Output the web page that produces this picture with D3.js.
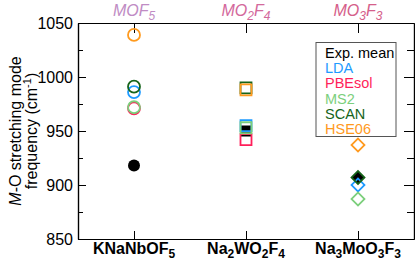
<!DOCTYPE html>
<html>
<head>
<meta charset="utf-8">
<script src="https://cdn.jsdelivr.net/npm/d3@7"></script>
<style>
  body { margin: 0; background: #fff; }
  text { font-family: "Liberation Sans", Arial, sans-serif; }
</style>
</head>
<body>
<div id="chart"></div>
<script>
// compounds on the x axis
const categories = ["KNaNbOF5", "Na2WO2F4", "Na3MoO3F3"];
const catLabels = [["KNaNbOF", "5"], ["Na", "2", "WO", "2", "F", "4"], ["Na", "3", "MoO", "3", "F", "3"]];
const topLabels = [["MOF", "5"], ["MO", "2", "F", "4"], ["MO", "3", "F", "3"]];
const topColors = ["#c08cc4", "#d3699c", "#d5608a"];
const shapes = ["circle", "square", "diamond"];

// series (cm-1), one value per compound
const methods = ["Exp. mean", "LDA", "PBEsol", "MS2", "SCAN", "HSE06"];
const colors = ["#000000", "#1e9bff", "#ff1f5a", "#7ccf7c", "#16641a", "#ff9a1e"];
const expMean = [918, 950, 907];
const lda = [986, 955, 900];
const pbesol = [971, 942, null];
const ms2 = [972, 953, 887];
const scan = [991, 990, 907];
const hse06 = [1039, 988, 937];
const series = [expMean, lda, pbesol, ms2, scan, hse06];

const yTicks = [850, 900, 950, 1000, 1050];
const yMinor = [875, 925, 975, 1025];

const width = 415, height = 263;
const margin = { left: 78, right: 1, top: 23, bottom: 24 };

const svg = d3.select("#chart").append("svg")
  .attr("width", width).attr("height", height);

const x = d3.scalePoint().domain(categories)
  .range([margin.left, width - margin.right]).padding(0.5);
const y = d3.scaleLinear().domain([850, 1050])
  .range([height - margin.bottom, margin.top]);

const x0 = margin.left, x1 = width - margin.right;
const y0 = height - margin.bottom, y1 = margin.top;

// axes, ticks pointing inward
function styleAxis(g) {
  g.select(".domain").attr("stroke", "#000").attr("stroke-width", 1.2);
  g.selectAll(".tick line").attr("stroke", "#000").attr("stroke-width", 1);
}

svg.append("g").attr("transform", `translate(${x0},0)`)
  .call(d3.axisLeft(y).tickValues(yTicks).tickSize(-8).tickPadding(5)
    .tickFormat(d3.format("d")).tickSizeOuter(0))
  .call(styleAxis)
  .call(g => g.selectAll("text").attr("font-size", 16).attr("fill", "#000")
    .attr("font-family", "Liberation Sans, Arial, sans-serif"));
svg.append("g").attr("transform", `translate(${x0},0)`)
  .call(d3.axisLeft(y).tickValues(yMinor).tickSize(-5).tickFormat("").tickSizeOuter(0))
  .call(styleAxis);
svg.append("g").attr("transform", `translate(${x1},0)`)
  .call(d3.axisRight(y).tickValues(yTicks).tickSize(-10).tickFormat("").tickSizeOuter(0))
  .call(styleAxis);
svg.append("g").attr("transform", `translate(${x1},0)`)
  .call(d3.axisRight(y).tickValues(yMinor).tickSize(-7).tickFormat("").tickSizeOuter(0))
  .call(styleAxis);
svg.append("g").attr("transform", `translate(0,${y0})`)
  .call(d3.axisBottom(x).tickSize(-8).tickFormat("").tickSizeOuter(0))
  .call(styleAxis);
svg.append("g").attr("transform", `translate(0,${y1})`)
  .call(d3.axisTop(x).tickSize(-10).tickFormat("").tickSizeOuter(0))
  .call(styleAxis);

// text with subscripts: parts alternate normal / subscript
function subText(sel, parts, size, subSize) {
  parts.forEach((p, i) => {
    const sub = i % 2 === 1;
    sel.append("tspan")
      .attr("font-size", sub ? subSize : size)
      .attr("dy", sub ? 4 : (i > 0 ? -4 : 0))
      .text(p);
  });
}

// bottom compound labels
categories.forEach((c, i) => {
  const t = svg.append("text")
    .attr("x", x(c)).attr("y", 254)
    .attr("text-anchor", "middle")
    .attr("font-weight", "bold").attr("fill", "#000");
  subText(t, catLabels[i], 16, 12);
});

// top anion-group labels
categories.forEach((c, i) => {
  const t = svg.append("text")
    .attr("x", x(c)).attr("y", 16)
    .attr("text-anchor", "middle")
    .attr("fill", topColors[i]).attr("font-style", "italic");
  subText(t, topLabels[i], 16, 12);
});

// y title
const yt = svg.append("g").attr("transform", `translate(0,${(y0 + y1) / 2}) rotate(-90)`);
const l1 = yt.append("text").attr("x", 0).attr("y", 21).attr("text-anchor", "middle")
  .attr("font-size", 16).attr("fill", "#000");
l1.append("tspan").attr("font-style", "italic").text("M");
l1.append("tspan").text("-O stretching mode");
const l2 = yt.append("text").attr("x", 0).attr("y", 37).attr("text-anchor", "middle")
  .attr("font-size", 16).attr("fill", "#000");
l2.append("tspan").text("frequency (cm");
l2.append("tspan").attr("font-size", 11).attr("dy", -6).text("-1");
l2.append("tspan").attr("dy", 6).text(")");

// markers
const symbolFor = {
  circle: d3.symbol().type(d3.symbolCircle).size(Math.PI * 36),
  square: d3.symbol().type(d3.symbolSquare).size(121),
  diamond: d3.symbol().type(d3.symbolSquare).size(84)
};

series.forEach((vals, s) => {
  vals.forEach((v, i) => {
    if (v == null) return;
    const shape = shapes[i];
    const rot = shape === "diamond" ? " rotate(45)" : "";
    svg.append("path")
      .attr("d", symbolFor[shape]())
      .attr("transform", `translate(${x(categories[i])},${y(v)})${rot}`)
      .attr("fill", s === 0 ? colors[s] : "none")
      .attr("stroke", colors[s])
      .attr("stroke-width", s === 0 ? 0 : 1.8);
  });
});

// legend
const lg = svg.append("g");
lg.append("rect").attr("x", 316).attr("y", 42.5).attr("width", 80).attr("height", 94)
  .attr("fill", "#fff").attr("stroke", "#555").attr("stroke-width", 1);
methods.forEach((m, s) => {
  lg.append("text").attr("x", 325).attr("y", 58 + s * 15.2)
    .attr("font-size", 14.5).attr("fill", colors[s]).text(m);
});
</script>
</body>
</html>
